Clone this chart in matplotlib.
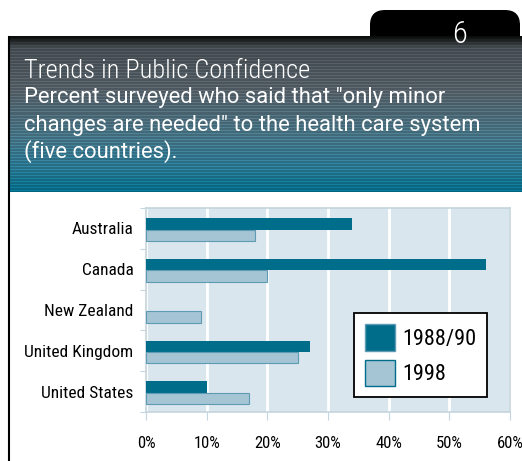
import numpy as np
import matplotlib

matplotlib.use("Agg")
import matplotlib.pyplot as plt
from matplotlib.patches import FancyBboxPatch, Patch

countries = ["Australia", "Canada", "New Zealand", "United Kingdom", "United States"]
pct_1988_90 = [34, 56, 0, 27, 10]
pct_1998 = [18, 20, 9, 25, 17]
series_labels = ["1988/90", "1998"]
x_ticks = [0, 10, 20, 30, 40, 50, 60]

title = "Trends in Public Confidence"
subtitle = ['Percent surveyed who said that "only minor',
            'changes are needed" to the health care system',
            "(five countries)."]
page_number = "6"

DARK = "#006d8b"
LIGHT = "#a5c5d4"
LIGHT_EDGE = "#5f9bb3"
FACE = "#d9e6ed"
SPINE = "#c5d5dd"
FONT = ["Roboto Condensed", "DejaVu Sans"]

plt.rcParams["font.family"] = FONT

W, H = 522, 461
fig = plt.figure(figsize=(W / 100, H / 100), dpi=100)

# background layer in pixel coordinates
bg = fig.add_axes([0, 0, 1, 1])
bg.set_xlim(0, W)
bg.set_ylim(H, 0)
bg.axis("off")

# black tab with page number
tab = FancyBboxPatch((370, 10), 150, 45, boxstyle="round,pad=0,rounding_size=15",
                     facecolor="black", edgecolor="none", zorder=0)
bg.add_patch(tab)
bg.text(460, 43, page_number, color="white", fontsize=22, fontweight="light",
        ha="center", va="baseline", zorder=3)

# striped gradient header band
top, bottom = 37, 192
n = bottom - top
stops = np.array([[0.04, 0.04, 0.04], [0.27, 0.30, 0.32], [0.33, 0.37, 0.40],
                  [0.27, 0.45, 0.52], [0.16, 0.46, 0.56], [0.02, 0.42, 0.53]])
pos = np.array([0.0, 0.07, 0.35, 0.65, 0.85, 1.0])
t = np.linspace(0, 1, n)
rows = np.stack([np.interp(t, pos, stops[:, c]) for c in range(3)], axis=1)
stripe = np.where(np.arange(n) % 3 == 0, 1.16, 0.94)[:, None]
rows = np.clip(rows * stripe, 0, 1)
grad = np.repeat(rows[:, None, :], 2, axis=1)
bg.imshow(grad, extent=[8, W, bottom, top], aspect="auto", interpolation="nearest",
          zorder=1)
bg.plot([8.5, 8.5], [top, H], color="black", lw=1.5, zorder=2)

bg.text(24, 78, title, color="white", fontsize=19, fontweight="light",
        va="baseline", ha="left", zorder=3)
for i, line in enumerate(subtitle):
    bg.text(24, 103 + i * 27.5, line, color="white", fontsize=15.8,
            family=["Roboto", "DejaVu Sans"], fontweight="normal",
            va="baseline", ha="left", zorder=3)

# chart
ax = fig.add_axes([146 / W, 1 - 412 / H, (510 - 146) / W, (412 - 208) / H])
ax.set_facecolor(FACE)
y = np.arange(len(countries))
h = 0.28
ax.barh(y - h / 2 + 0.03, pct_1988_90, height=h, color=DARK, lw=0,
        label=series_labels[0], zorder=3)
ax.barh(y + h / 2 + 0.03, pct_1998, height=h, color=LIGHT, edgecolor=LIGHT_EDGE, lw=0.8,
        label=series_labels[1], zorder=3)

ax.set_xlim(0, 60)
ax.set_ylim(len(countries) - 0.5, -0.5)
ax.set_xticks(x_ticks)
ax.set_xticklabels([f"{v}%" for v in x_ticks], fontsize=12)
ax.xaxis.grid(True, color="white", lw=2, zorder=1)
ax.set_yticks(np.arange(len(countries) + 1) - 0.5, minor=False)
ax.set_yticklabels([])
ax.set_yticks(y, minor=True)
ax.set_yticklabels(countries, minor=True, fontsize=12.5)
ax.tick_params(axis="y", which="major", length=4, color=SPINE, direction="out")
ax.tick_params(axis="y", which="minor", length=0, pad=9)
ax.tick_params(axis="x", length=6, color=SPINE, pad=11)
for s in ax.spines.values():
    s.set_color(SPINE)
    s.set_linewidth(1.2)

handles = [Patch(facecolor=DARK, edgecolor=LIGHT_EDGE, label=series_labels[0]),
           Patch(facecolor=LIGHT, edgecolor=DARK, label=series_labels[1])]
leg = ax.legend(handles=handles, loc="lower right", bbox_to_anchor=(0.937, 0.073),
                frameon=True, fancybox=False, edgecolor="black", fontsize=16,
                handlelength=1.35, handleheight=1.45, borderpad=0.5, labelspacing=0.4,
                handletextpad=0.3, borderaxespad=0, framealpha=1)
leg.get_frame().set_linewidth(1.3)
leg.set_zorder(5)

fig.savefig("out.png", dpi=100)
